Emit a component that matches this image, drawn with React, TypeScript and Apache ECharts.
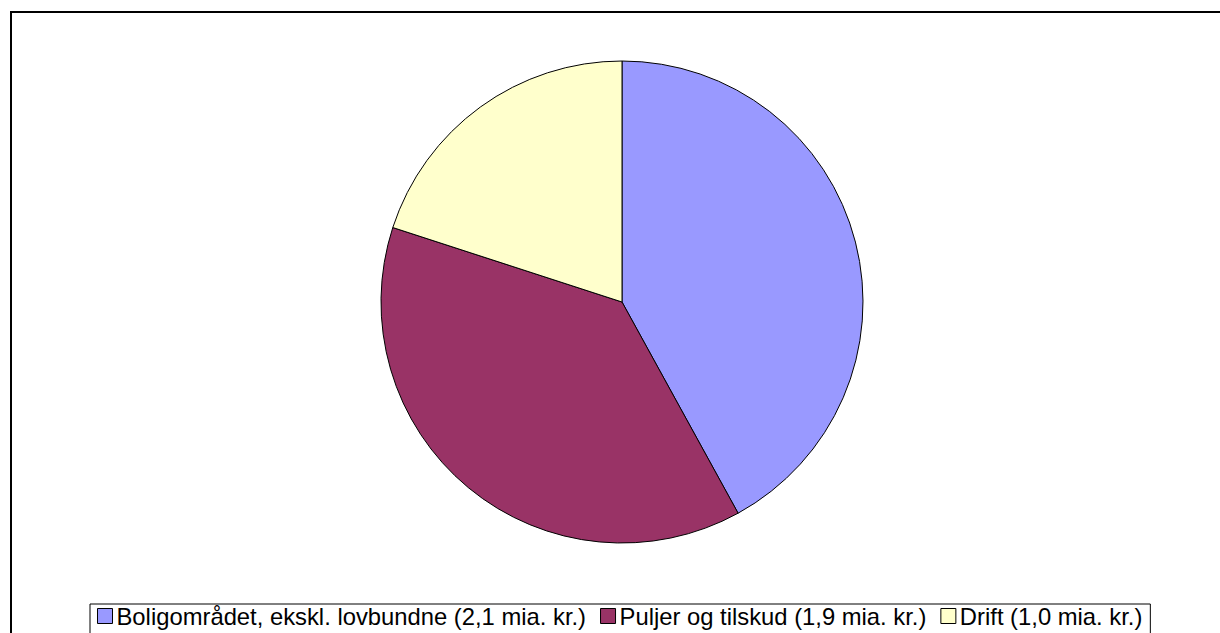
import React, { useEffect, useRef } from "react";
import * as echarts from "echarts";

const categories = [
  "Boligområdet, ekskl. lovbundne (2,1 mia. kr.)",
  "Puljer og tilskud (1,9 mia. kr.)",
  "Drift (1,0 mia. kr.)",
];
const values = [2.1, 1.9, 1.0];
const colors = ["#9999FF", "#993366", "#FFFFCC"];

export default function App() {
  const ref = useRef<HTMLDivElement>(null);
  useEffect(() => {
    if (!ref.current) return;
    const chart = echarts.init(ref.current, null, { renderer: "svg" });
    chart.setOption({
      animation: false,
      backgroundColor: "#ffffff",
      graphic: [
        {
          type: "rect",
          shape: { x: 11, y: 12, width: 1230, height: 700 },
          style: { fill: "none", stroke: "#000", lineWidth: 2 },
          silent: true,
        },
      ],
      legend: {
        left: 90,
        top: 604,
        orient: "horizontal",
        icon: "rect",
        itemWidth: 15,
        itemHeight: 15,
        itemGap: 14,
        padding: [0, 8, 14, 7],
        borderColor: "#000",
        borderWidth: 1,
        backgroundColor: "#fff",
        itemStyle: { borderColor: "#000", borderWidth: 1 },
        textStyle: {
          fontFamily: "Liberation Sans, Arial, sans-serif",
          fontSize: 23.8,
          lineHeight: 24,
          color: "#000",
          padding: [0, 0, 0, -1],
        },
        data: categories,
      },
      series: [
        {
          type: "pie",
          center: [622, 302],
          radius: [0, 241],
          startAngle: 90,
          clockwise: true,
          label: { show: false },
          labelLine: { show: false },
          itemStyle: { borderColor: "#000", borderWidth: 1 },
          emphasis: { disabled: true },
          data: categories.map((name, i) => ({
            name,
            value: values[i],
            itemStyle: { color: colors[i] },
          })),
        },
      ],
    });
    return () => chart.dispose();
  }, []);
  return (
    <div
      ref={ref}
      style={{ position: "fixed", left: 0, top: 0, width: 1220, height: 633 }}
    />
  );
}
